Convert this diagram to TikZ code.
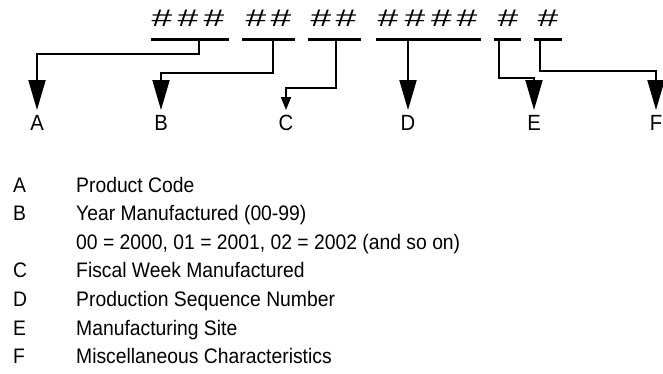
\documentclass[tikz,border=0pt]{standalone}
\usepackage{fontspec}
\setmainfont[FakeStretch=0.92]{Liberation Sans}
\newfontfamily\hashfont[FakeStretch=1.55]{Liberation Sans}
\usetikzlibrary{arrows.meta}

\tikzset{
	hash/.style  = {font=\hashfont\fontsize{24}{24}\selectfont, anchor=base, inner sep=0pt},
	bar/.style   = {line width=3pt},
	link/.style  = {line width=2pt, -{Triangle[length=30pt, width=17pt]}},
	slink/.style = {line width=2pt, -{Triangle[length=13pt, width=10pt]}},
	field/.style = {font=\fontsize{22}{22}\selectfont, anchor=north, inner sep=5pt},
	key/.style   = {font=\fontsize{21}{21}\selectfont, anchor=base west, inner sep=0pt}
}

\begin{document}
\begin{tikzpicture}[x=1pt, y=-1pt]
	\useasboundingbox (0,0) rectangle (663,373);
	% the code digits
	\foreach \x [count=\i] in {162,188,214, 256,281, 321,346, 388,415,441.5,467, 508, 548}
		\node (h\i) at (\x, 26) [hash] {\#};
	\draw [bar] (151,39) -- (229,39);
	\draw [bar] (242,39) -- (295,39);
	\draw [bar] (308,39) -- (361,39);
	\draw [bar] (376,39) -- (481,39);
	\draw [bar] (494,39) -- (521,39);
	\draw [bar] (534,39) -- (562,39);
	\coordinate (sA) at (199,39);
	\coordinate (sB) at (273,39);
	\coordinate (sC) at (336,39);
	\coordinate (sD) at (408,39);
	\coordinate (sE) at (499,39);
	\coordinate (sF) at (540,39);
	% field letters
	\node (A) at ( 37, 110)	[field]	{A};
	\node (B) at (161, 110)	[field]	{B};
	\node (C) at (286, 110)	[field]	{C};
	\node (D) at (408, 110)	[field]	{D};
	\node (E) at (534, 110)	[field]	{E};
	\node (F) at (656, 110)	[field]	{F};
	\draw [link]  (sA) -- ++(0,15) -| (A.north);
	\draw [link]  (sB) -- ++(0,34) -| (B.north);
	\draw [slink] (sC) -- ++(0,49) -| (C.north);
	\draw [link]  (sD) -- (D.north);
	\draw [link]  (sE) -- ++(0,39) -| (E.north);
	\draw [link]  (sF) -- ++(0,32) -| (F.north);
	% legend
	\node (kA)  at (13, 192.0)	[key]	{A};
	\node (tA)  at (76, 192.0)	[key]	{Product Code};
	\node (kB)  at (13, 220.6)	[key]	{B};
	\node (tB)  at (76, 220.6)	[key]	{Year Manufactured (00-99)};
	\node (tB2) at (76, 249.2)	[key]	{00 = 2000, 01 = 2001, 02 = 2002 (and so on)};
	\node (kC)  at (13, 277.8)	[key]	{C};
	\node (tC)  at (76, 277.8)	[key]	{Fiscal Week Manufactured};
	\node (kD)  at (13, 306.4)	[key]	{D};
	\node (tD)  at (76, 306.4)	[key]	{Production Sequence Number};
	\node (kE)  at (13, 335.0)	[key]	{E};
	\node (tE)  at (76, 335.0)	[key]	{Manufacturing Site};
	\node (kF)  at (13, 363.6)	[key]	{F};
	\node (tF)  at (76, 363.6)	[key]	{Miscellaneous Characteristics};
\end{tikzpicture}
\end{document}
